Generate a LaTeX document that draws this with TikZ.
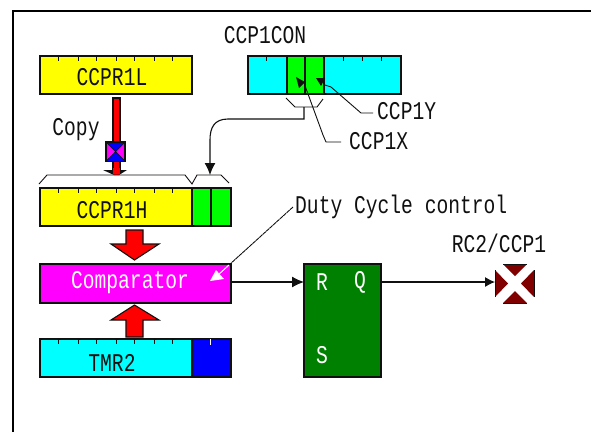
\documentclass[tikz,border=0pt]{standalone}
\usepackage{fontspec}
\setmainfont[FakeStretch=0.77]{Liberation Mono}
\usetikzlibrary{arrows.meta}
\definecolor{cyanc}{HTML}{00FFFF}
\definecolor{yel}{HTML}{FFFF00}
\definecolor{grn}{HTML}{00FF00}
\definecolor{mag}{HTML}{FF00FF}
\definecolor{blu}{HTML}{0000FF}
\definecolor{dkg}{HTML}{008000}
\definecolor{dkr}{HTML}{800000}
\definecolor{rdd}{HTML}{FF0000}
\definecolor{ink}{HTML}{101010}
\tikzset{
  cell/.style={draw=ink,line width=1.2pt,inner sep=0pt,anchor=north west,outer sep=0pt},
  lbl/.style={inner sep=0pt,text=ink,font=\fontsize{25.5}{25.5}\selectfont},
  wlbl/.style={lbl,text=white},
  wire/.style={draw=ink,line width=1.1pt},
  thin wire/.style={draw=ink,line width=0.9pt},
  tick/.style={draw=ink,line width=1pt},
  tip/.style={-{Latex[length=12pt,width=11pt]}},
  smalltip/.style={-{Latex[length=10pt,width=10pt]}},
  blockarrow/.style={draw=ink,line width=1.1pt,fill=rdd,line join=miter},
}
\begin{document}
\begin{tikzpicture}[x=1pt,y=-1pt]
\useasboundingbox (0,0) rectangle (591,432);
\fill[white] (0,0) rectangle (591,432);
% outer frame, open at the bottom and right
\draw[black,line width=2pt] (13,432) -- (13,11) -- (591,11);

% registers
\node[cell,fill=yel,minimum width=152pt,minimum height=38pt] (ccprl) at (40,56) {};
\node[lbl] at (112,77) {CCPR1L};
\foreach \x in {58,78,96.5,116.5,134,154,172} \draw[tick] (\x,56) -- (\x,60.5);

\node[cell,fill=cyanc,minimum width=153pt,minimum height=38pt] (con) at (248,56) {};
\node[cell,fill=grn,minimum width=18pt,minimum height=38pt] (conx) at (287,56) {};
\node[cell,fill=grn,minimum width=19pt,minimum height=38pt] (cony) at (305,56) {};
\foreach \x in {266,343,362.5,381} \draw[tick] (\x,56) -- (\x,60.5);
\node[lbl] at (265,35) {CCP1CON};

\node[cell,fill=yel,minimum width=152pt,minimum height=38pt] (ccprh) at (40,188) {};
\node[cell,fill=grn,minimum width=19pt,minimum height=38pt] (hx) at (192,188) {};
\node[cell,fill=grn,minimum width=20pt,minimum height=38pt] (hy) at (211,188) {};
\node[lbl] at (112,210) {CCPR1H};
\foreach \x in {58,78,96.5,116.5,134,154,172} \draw[tick] (\x,188) -- (\x,192.5);

\node[cell,fill=mag,minimum width=191pt,minimum height=39pt] (cmp) at (40,264) {};
\node[wlbl] at (130,283) {Comparator};

\node[cell,fill=cyanc,minimum width=152pt,minimum height=38pt] (tmr) at (40,339) {};
\node[cell,fill=blu,minimum width=39pt,minimum height=38pt] (tmrb) at (192,339) {};
\node[lbl] at (112,363) {TMR2};
\foreach \x in {58,78,96.5,116.5,134,154,172} \draw[tick] (\x,339) -- (\x,343.5);
\draw[white,line width=1pt] (210,339) -- (210,345);

% copy arrow
\draw[blockarrow,fill=rdd] (113,98) rectangle (120,172);
\fill[ink] (103,170) -- (127,170) -- (119,175) -- (114,175) -- cycle;
\fill[rdd] (113,168) rectangle (120,175);
\node[lbl] (copy) at (76,130) {Copy};
\node[draw=ink,line width=1.2pt,fill=mag,minimum width=18pt,minimum height=18pt,inner sep=0pt,anchor=north west] (gate) at (106,142) {};
\fill[blu] (gate.north west) -- (gate.north east) -- (gate.center) -- cycle
           (gate.south west) -- (gate.south east) -- (gate.center) -- cycle;
\draw[ink,line width=.6pt] (gate.north west) -- (gate.south east) (gate.north east) -- (gate.south west);
\draw[ink,line width=1.2pt] (gate.north west) rectangle (gate.south east);

% braces
\draw[thin wire] (39,184) -- (47,175) -- (185,175) -- (192,184) -- (197,175) -- (221,175) -- (229,183);
\draw[thin wire] (286,98) -- (295,107) -- (317,107) -- (323,99);

% CCP1CON to CCPR1H
\coordinate (bracec) at (304,107);
\coordinate (bracet) at (210,175);
\draw[wire,tip] (bracec) -- (304,119) -- (228,119) .. controls (214,119) and (210,128) .. (210,140) -- (bracet);

% leaders
\node[lbl,anchor=west] (ccpy) at (377,111) {CCP1Y};
\node[lbl,anchor=west] (ccpx) at (349,141) {CCP1X};
\coordinate (ytip) at (316,78);
\coordinate (xtip) at (296,77);
\draw[thin wire] (ccpy.west) ++(-4,2) -- (361,113) -- (331,87) -- (325,85);
\draw[thin wire] (ccpx.west) ++(-8,1) -- (326,142) -- (323,135) -- (304,83);
\fill[ink] (ytip) -- (325,78) -- (321,86) -- cycle;
\fill[ink] (xtip) -- (305,82) -- (299,88) -- cycle;

% block arrows
\draw[blockarrow] (126,230) -- (143,230) -- (143,244) -- (159,244) -- (134.5,260) -- (111,244) -- (126,244) -- cycle;
\draw[blockarrow] (126,337) -- (143,337) -- (143,320) -- (159,320) -- (134.5,305) -- (111,320) -- (126,320) -- cycle;

% duty cycle
\node[lbl,anchor=west] (duty) at (295,207) {Duty Cycle control};
\draw[thin wire,dash pattern=on 4pt off .6pt] (duty.west) ++(-2,0) -- (229,265);
\draw[white,line width=1pt] (229,265) -- (218,275);
\fill[white] (210,281) -- (224,279) -- (216,270) -- cycle;

% flip flop
\node[cell,fill=dkg,minimum width=77pt,minimum height=113pt] (rs) at (304,264) {};
\node[wlbl] at (322,282) {R};
\node[wlbl] at (360,282) {Q};
\node[wlbl] at (322,355) {S};

% output pin
\node[minimum width=39pt,minimum height=39pt,inner sep=0pt,anchor=north west] (pin) at (495,264) {};
\fill[dkr] (503,264) -- (527,264) -- (515,276) -- cycle
           (503,303) -- (527,303) -- (515,291) -- cycle
           (495,270) -- (495,297) -- (508,283.5) -- cycle
           (534,270) -- (534,297) -- (521,283.5) -- cycle;
\draw[ink,line width=1pt] (503,264) -- (527,264) (503,303) -- (527,303) (495,270) -- (495,297) (534,270) -- (534,297);
\node[lbl] at (499,243) {RC2/CCP1};

% wires
\coordinate (rin) at (304,282);
\draw[wire,tip] (rin -| cmp.east) -- (rin);
\draw[wire,smalltip] (rin -| rs.east) -- (rin -| pin.west);
\end{tikzpicture}
\end{document}
